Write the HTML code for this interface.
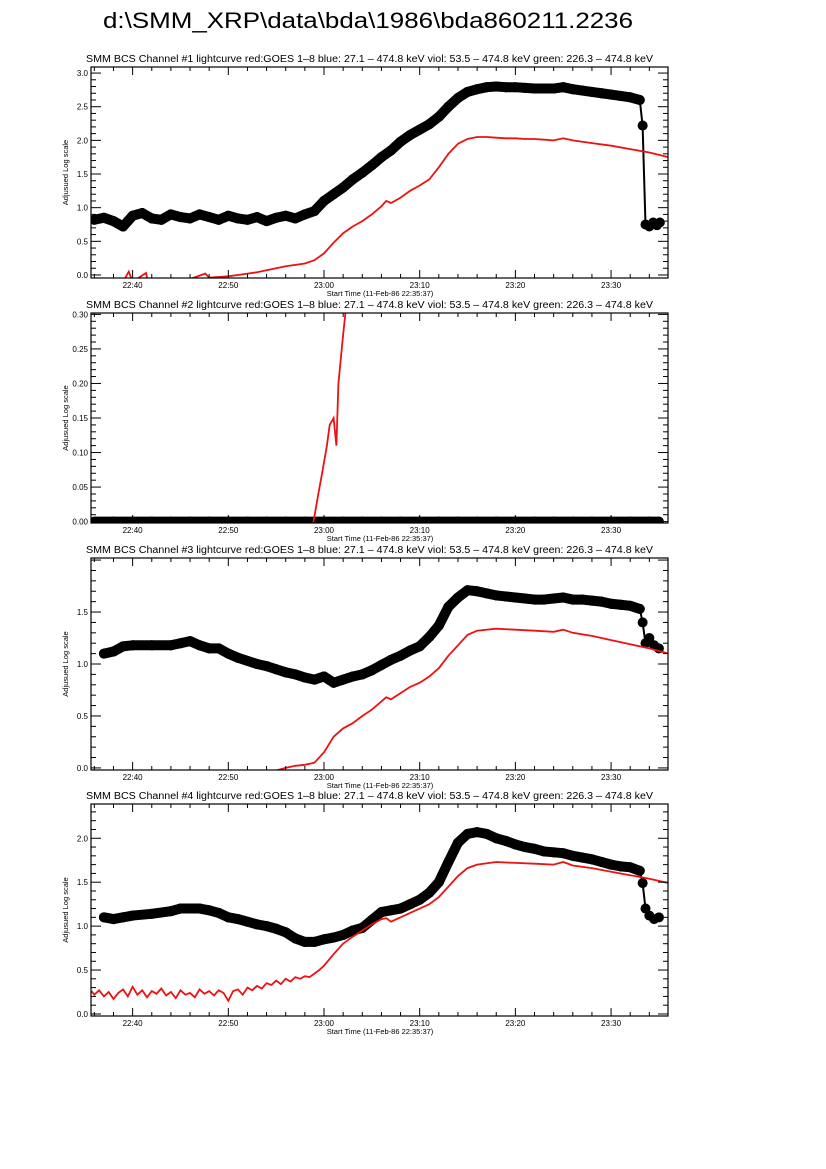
<!DOCTYPE html>
<html><head><meta charset="utf-8"><style>
html,body{margin:0;padding:0;background:#fff;}
svg{display:block;font-family:"Liberation Sans",sans-serif;}
</style></head><body>
<svg id="fig" width="826" height="1169" viewBox="0 0 826 1169" xmlns="http://www.w3.org/2000/svg">
<rect width="826" height="1169" fill="#fff"/>
<text x="368" y="28" font-size="22" text-anchor="middle" textLength="530" lengthAdjust="spacingAndGlyphs">d:\SMM_XRP\data\bda\1986\bda860211.2236</text>
</svg>
<script>
// time in minutes relative to 23:00
const xTickLabels = ["22:40","22:50","23:00","23:10","23:20","23:30"];
const xTickMinutes = [-20,-10,0,10,20,30];
const xDomain = [-24.35, 35.95];

const p1BlackT = [-24,-23,-22,-21,-20,-19,-18,-17,-16,-15,-14,-13,-12,-11,-10,-9,-8,-7,-6,-5,-4,-3,-2,-1,0,1,2,3,4,5,6,7,8,9,10,11,12,13,14,15,16,17,18,19,20,21,22,23,24,25,26,27,28,29,30,31,32,33,33.3,33.6,34,34.4,34.8,35.1];
const p1BlackV = [0.82,0.85,0.80,0.72,0.88,0.92,0.84,0.82,0.90,0.86,0.84,0.90,0.86,0.82,0.88,0.84,0.82,0.86,0.80,0.85,0.88,0.84,0.90,0.95,1.10,1.20,1.30,1.42,1.52,1.63,1.75,1.85,1.98,2.08,2.16,2.24,2.35,2.50,2.63,2.72,2.76,2.79,2.80,2.79,2.79,2.78,2.77,2.77,2.77,2.79,2.76,2.74,2.72,2.70,2.68,2.66,2.64,2.60,2.22,0.75,0.72,0.78,0.74,0.78];
const p1RedT = [-24,-21,-20.4,-20,-18.6,-18.4,-16,-14,-12.4,-12,-10,-9,-8,-7,-6,-5,-4,-3,-2,-1,0,1,2,3,4,5,6,6.5,7,8,9,10,11,12,13,14,15,16,17,18,19,20,21,22,23,24,25,26,28,30,32,34,36];
const p1RedV = [-0.1,-0.1,0.05,-0.1,0.03,-0.1,-0.05,-0.06,0.02,-0.04,-0.02,0.0,0.02,0.04,0.07,0.1,0.13,0.15,0.17,0.22,0.32,0.48,0.62,0.72,0.8,0.9,1.02,1.1,1.07,1.15,1.25,1.33,1.42,1.6,1.8,1.95,2.02,2.05,2.05,2.04,2.03,2.03,2.02,2.02,2.01,2.0,2.03,2.0,1.96,1.92,1.87,1.82,1.75];

const p2BlackT = [-24,-22,-20,-18,-16,-14,-12,-10,-8,-6,-4,-2,0,2,4,6,8,10,12,14,16,18,20,22,24,26,28,30,32,34,35];
const p2BlackV = [0,0,0,0,0,0,0,0,0,0,0,0,0,0,0,0,0,0,0,0,0,0,0,0,0,0,0,0,0,0,0];
const p2RedT = [-2,-1.1,-0.6,-0.2,0.3,0.6,1.0,1.3,1.5,2.0,2.3,3.0];
const p2RedV = [-0.05,0.0,0.04,0.07,0.11,0.14,0.15,0.11,0.2,0.27,0.31,0.45];

const p3BlackT = [-23,-22,-21,-20,-18,-16,-15,-14,-13,-12,-11,-10,-9,-8,-7,-6,-5,-4,-3,-2,-1,0,1,2,3,4,5,6,7,8,9,10,11,12,13,14,15,16,17,18,19,20,21,22,23,24,25,26,27,28,29,30,31,32,33,33.3,33.6,34,34.5,35];
const p3BlackV = [1.10,1.12,1.17,1.18,1.18,1.18,1.20,1.22,1.18,1.15,1.15,1.10,1.06,1.03,1.00,0.98,0.95,0.92,0.90,0.87,0.85,0.88,0.82,0.85,0.88,0.90,0.94,0.99,1.04,1.08,1.13,1.17,1.26,1.37,1.55,1.64,1.71,1.70,1.68,1.66,1.65,1.64,1.63,1.62,1.62,1.63,1.64,1.62,1.62,1.61,1.60,1.58,1.57,1.56,1.53,1.40,1.20,1.25,1.18,1.15];
const p3RedT = [-6,-4,-3,-2,-1,0,1,2,3,4,5,6,6.5,7,8,9,10,11,12,13,14,15,16,18,20,22,24,25,26,28,30,32,34,36];
const p3RedV = [-0.05,0.0,0.02,0.03,0.05,0.15,0.3,0.38,0.43,0.5,0.56,0.64,0.68,0.66,0.72,0.78,0.82,0.88,0.96,1.08,1.18,1.28,1.32,1.34,1.33,1.32,1.31,1.33,1.30,1.27,1.23,1.19,1.15,1.10];

const p4BlackT = [-23,-22,-21,-20,-18,-16,-15,-14,-13,-12,-11,-10,-9,-8,-7,-6,-5,-4,-3,-2,-1,0,1,2,3,4,5,6,7,8,9,10,11,12,13,14,15,16,17,18,19,20,21,22,23,24,25,26,27,28,29,30,31,32,33,33.3,33.6,34,34.5,35];
const p4BlackV = [1.10,1.08,1.10,1.12,1.14,1.17,1.20,1.20,1.20,1.18,1.15,1.10,1.08,1.05,1.02,1.00,0.97,0.93,0.86,0.82,0.82,0.85,0.87,0.90,0.95,0.98,1.07,1.16,1.18,1.20,1.25,1.30,1.38,1.50,1.73,1.95,2.05,2.07,2.05,2.00,1.97,1.93,1.90,1.88,1.85,1.84,1.83,1.80,1.78,1.76,1.73,1.70,1.68,1.67,1.63,1.49,1.20,1.12,1.08,1.10];
const p4RedT = [-24.3,-24,-23.5,-23,-22.5,-22,-21.5,-21,-20.5,-20,-19.5,-19,-18.5,-18,-17.5,-17,-16.5,-16,-15.5,-15,-14.5,-14,-13.5,-13,-12.5,-12,-11.5,-11,-10.5,-10,-9.5,-9,-8.5,-8,-7.5,-7,-6.5,-6,-5.5,-5,-4.5,-4,-3.5,-3,-2.5,-2,-1.5,-1,-0.5,0,1,2,3,4,5,6,6.5,7,8,9,10,11,12,13,14,15,16,18,20,22,24,25,26,28,30,32,34,36];
const p4RedV = [0.26,0.22,0.27,0.2,0.25,0.17,0.24,0.28,0.2,0.31,0.22,0.27,0.19,0.26,0.23,0.29,0.21,0.25,0.18,0.27,0.22,0.24,0.19,0.28,0.23,0.26,0.21,0.27,0.24,0.15,0.26,0.28,0.22,0.30,0.27,0.32,0.29,0.35,0.33,0.38,0.34,0.40,0.37,0.42,0.40,0.43,0.42,0.46,0.50,0.55,0.68,0.80,0.88,0.95,1.02,1.08,1.09,1.05,1.10,1.15,1.20,1.25,1.33,1.45,1.57,1.66,1.70,1.73,1.72,1.71,1.70,1.73,1.69,1.66,1.62,1.58,1.54,1.49];

const yTicks1 = ["0.0","0.5","1.0","1.5","2.0","2.5","3.0"];
const yTicks2 = ["0.00","0.05","0.10","0.15","0.20","0.25","0.30"];
const yTicks3 = ["0.0","0.5","1.0","1.5"];
const yTicks4 = ["0.0","0.5","1.0","1.5","2.0"];

const NS = "http://www.w3.org/2000/svg";
const svg = document.getElementById("fig");
const L = 91, R = 668;
function mk(tag, attrs, parent){ const e = document.createElementNS(NS, tag); for (const k in attrs) e.setAttribute(k, attrs[k]); (parent||svg).appendChild(e); return e; }
const xs = m => L + (m - xDomain[0]) / (xDomain[1] - xDomain[0]) * (R - L);

const panels = [
 {n:1, top:67, bot:278, y0:-0.045, y1:3.09, major:0.5, minor:0.1, ticks:yTicks1, bt:p1BlackT, bv:p1BlackV, rt:p1RedT, rv:p1RedV},
 {n:2, top:313, bot:523, y0:-0.002, y1:0.302, major:0.05, minor:0.01, ticks:yTicks2, bt:p2BlackT, bv:p2BlackV, rt:p2RedT, rv:p2RedV},
 {n:3, top:558, bot:770, y0:-0.02, y1:2.02, major:0.5, minor:0.1, ticks:yTicks3, bt:p3BlackT, bv:p3BlackV, rt:p3RedT, rv:p3RedV},
 {n:4, top:804, bot:1016, y0:-0.023, y1:2.39, major:0.5, minor:0.1, ticks:yTicks4, bt:p4BlackT, bv:p4BlackV, rt:p4RedT, rv:p4RedV}
];

panels.forEach(p => {
  const g = mk("g", {});
  
  
  const ys = v => p.bot - (v - p.y0) / (p.y1 - p.y0) * (p.bot - p.top);
  const title = mk("text", {x:(L+R)/2 - 10, y:p.top - 5, "font-size":10, "text-anchor":"middle", textLength:567, lengthAdjust:"spacingAndGlyphs"}, g);
  title.textContent = "SMM BCS Channel #" + p.n + " lightcurve  red:GOES 1\u20138  blue: 27.1 \u2013 474.8 keV  viol: 53.5 \u2013 474.8 keV  green: 226.3 \u2013 474.8 keV";
  
  
  const clipId = "clip" + p.n;
  const cp = mk("clipPath", {id:clipId}, g);
  mk("rect", {x:L, y:p.top, width:R-L, height:p.bot-p.top}, cp);
  const dg = mk("g", {"clip-path":"url(#" + clipId + ")"}, g);
  // black series
  const bpts = p.bt.map((t,i) => xs(t).toFixed(1) + "," + ys(p.bv[i]).toFixed(1)).join(" ");
  const bl = mk("polyline", {points:bpts, fill:"none", stroke:"#000", "stroke-width":2}, dg);
  
  
  // dense-sample band between regularly spaced points
  for (let i = 0; i < p.bt.length - 1; i++) {
    if (p.bt[i+1] - p.bt[i] < 0.9) continue;
    const seg = mk("line", {x1:xs(p.bt[i]), y1:ys(p.bv[i]), x2:xs(p.bt[i+1]), y2:ys(p.bv[i+1]), stroke:"#000", "stroke-width":10, "stroke-linecap":"round"}, dg);
    
    
  }
  p.bt.forEach((t,i) => {
    const c = mk("circle", {cx:xs(t), cy:ys(p.bv[i]), r:5, fill:"#000"}, dg);
    
    
  });
  const rpts = p.rt.map((t,i) => xs(t).toFixed(1) + "," + ys(p.rv[i]).toFixed(1)).join(" ");
  const rl = mk("polyline", {points:rpts, fill:"none", stroke:"#ee1111", "stroke-width":1.8}, dg);
  
  
  // frame
  const fr = mk("rect", {x:L, y:p.top, width:R-L, height:p.bot-p.top, fill:"none", stroke:"#000", "stroke-width":1.2}, g);
  
  
  // x ticks
  for (let m = -24; m <= 35; m += 2) {
    const x = xs(m); const len = (m % 10 === 0) ? 8 : 4;
    mk("line", {x1:x, x2:x, y1:p.bot, y2:p.bot-len, stroke:"#000"}, g);
    mk("line", {x1:x, x2:x, y1:p.top, y2:p.top+len, stroke:"#000"}, g);
  }
  xTickLabels.forEach((lab,i) => {
    const t = mk("text", {x:xs(xTickMinutes[i]), y:p.bot+10, "font-size":8, "text-anchor":"middle"}, g);
    t.textContent = lab;
    
    
  });
  const xt = mk("text", {x:380, y:p.bot+18, "font-size":7.5, "text-anchor":"middle"}, g);
  xt.textContent = "Start Time (11-Feb-86 22:35:37)";
  
  
  // y ticks
  const nMinor = Math.round(p.y1 / p.minor);
  for (let k = 0; k <= nMinor; k++) {
    const v = k * p.minor; const y = ys(v);
    if (y < p.top - 0.5) continue;
    const isMajor = Math.abs(v / p.major - Math.round(v / p.major)) < 1e-6;
    const len = isMajor ? 10 : 5;
    mk("line", {x1:L, x2:L+len, y1:y, y2:y, stroke:"#000"}, g);
    mk("line", {x1:R, x2:R-len, y1:y, y2:y, stroke:"#000"}, g);
  }
  p.ticks.forEach((lab,i) => {
    const t = mk("text", {x:L-3, y:ys(i*p.major)+3, "font-size":8, "text-anchor":"end"}, g);
    t.textContent = lab;
    
    
  });
  const cy = (p.top + p.bot) / 2;
  const yt = mk("text", {x:68, y:cy, "font-size":7.5, "text-anchor":"middle", transform:"rotate(-90 68 " + cy + ")"}, g);
  yt.textContent = "Adjusued Log scale";
  
  
});
</script>
</body></html>
